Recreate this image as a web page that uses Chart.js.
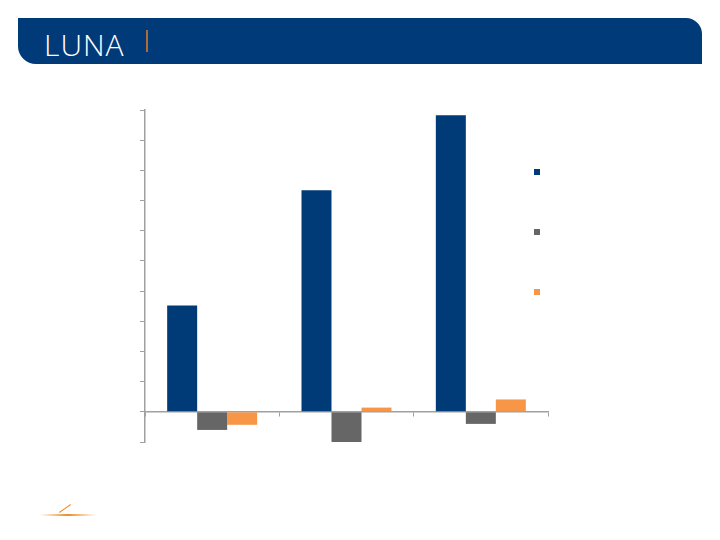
<!DOCTYPE html>
<html><head><meta charset="utf-8">
<script src="https://cdn.jsdelivr.net/npm/chart.js@4/dist/chart.umd.min.js"></script>
<style>
body{margin:0;width:720px;height:540px;background:#fff;position:relative;overflow:hidden;font-family:"Liberation Sans",sans-serif}
#hdr{position:absolute;left:18px;top:18px;width:684px;height:46px;background:#003a78;border-radius:0 16px 0 18px}
#logo{position:absolute;left:26px;top:6px;color:#fff;font-size:30px;font-weight:300;letter-spacing:1px;font-family:"Open Sans",sans-serif}
#bar{position:absolute;left:128px;top:12px;width:2px;height:22px;background:#b06a3a}
#flare{position:absolute;left:40px;top:514px;width:56px;height:2px;background:linear-gradient(90deg,rgba(240,140,40,0),#f08c28,rgba(240,140,40,0))}
#flare2{position:absolute;left:58px;top:508px;width:14px;height:1px;background:#f08c28;transform:rotate(-35deg)}
canvas{position:absolute;left:0;top:0}
</style></head><body>
<div id="hdr"><div id="logo">LUNA</div><div id="bar"></div></div>
<div id="flare"></div><div id="flare2"></div>
<canvas id="c" width="720" height="540"></canvas>
<script>
const categories = ['', '', ''];
const seriesA = [3.52, 7.34, 9.83];
const seriesB = [-0.6, -1.0, -0.4];
const seriesC = [-0.43, 0.14, 0.41];
const colors = ['#003b78', '#666666', '#f79646'];

const legendBoxes = {
    id: 'legendBoxes',
    afterDraw(chart) {
        const ctx = chart.ctx;
        chart.data.datasets.forEach((ds, i) => {
            ctx.fillStyle = ds.backgroundColor;
            ctx.fillRect(534, 169 + i * 60, 6, 6);
        });
    }
};

new Chart(document.getElementById('c'), {
    type: 'bar',
    data: {
        labels: categories,
        datasets: [
            { data: seriesA, backgroundColor: colors[0] },
            { data: seriesB, backgroundColor: colors[1] },
            { data: seriesC, backgroundColor: colors[2] }
        ]
    },
    options: {
        responsive: false,
        animation: false,
        layout: { padding: { left: 140, top: 110, right: 172, bottom: 98 } },
        plugins: { legend: { display: false }, tooltip: { enabled: false } },
        datasets: { bar: { categoryPercentage: 0.67, barPercentage: 1 } },
        scales: {
            x: {
                position: { y: 0 },
                ticks: { display: false },
                grid: { offset: true, drawOnChartArea: false, drawTicks: true, tickLength: 4, color: '#a0a0a0' },
                border: { color: '#a0a0a0', width: 1.5 }
            },
            y: {
                min: -1, max: 10,
                ticks: { display: false, stepSize: 1 },
                grid: { drawOnChartArea: false, drawTicks: true, tickLength: 5, color: '#a0a0a0' },
                border: { color: '#a0a0a0', width: 1.5 }
            }
        }
    },
    plugins: [legendBoxes]
});
</script>
</body></html>
